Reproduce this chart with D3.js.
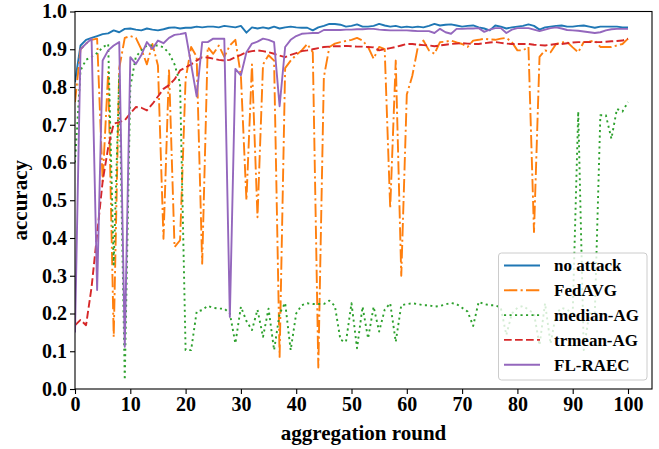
<!DOCTYPE html>
<html><head><meta charset="utf-8">
<script src="https://cdn.jsdelivr.net/npm/d3@7"></script>
<style>
body{margin:0;background:#fff}
svg{display:block}
text{font-family:"Liberation Serif","Times New Roman",serif;font-weight:bold;fill:#000}
</style>
</head><body>
<svg id="chart" width="659" height="449"></svg>
<script>
const rounds = d3.range(0, 101);
const xTicks = [0,10,20,30,40,50,60,70,80,90,100];
const yTicks = [0,0.1,0.2,0.3,0.4,0.5,0.6,0.7,0.8,0.9,1.0];
const seriesNames = ["no attack","FedAVG","median-AG","trmean-AG","FL-RAEC"];

const noAttack = [
0.813,0.91,0.925,0.93,0.935,0.94,0.942,0.95,0.945,0.954,
0.955,0.952,0.95,0.955,0.952,0.95,0.953,0.957,0.958,0.955,
0.957,0.957,0.96,0.958,0.96,0.96,0.958,0.962,0.96,0.958,
0.962,0.944,0.958,0.955,0.958,0.955,0.96,0.955,0.958,0.96,
0.958,0.957,0.957,0.95,0.958,0.962,0.967,0.967,0.965,0.96,
0.962,0.966,0.96,0.96,0.962,0.967,0.963,0.96,0.962,0.958,
0.96,0.958,0.96,0.958,0.962,0.967,0.963,0.965,0.966,0.963,
0.96,0.962,0.963,0.958,0.955,0.95,0.963,0.96,0.955,0.958,
0.96,0.962,0.966,0.962,0.952,0.958,0.96,0.962,0.963,0.96,
0.96,0.962,0.963,0.96,0.957,0.96,0.96,0.96,0.96,0.958,0.958];

const fedAvg = [
0.76,0.9,0.915,0.925,0.928,0.55,0.84,0.138,0.85,0.93,
0.935,0.93,0.9,0.86,0.914,0.857,0.398,0.848,0.376,0.394,
0.82,0.906,0.88,0.332,0.906,0.888,0.91,0.88,0.91,0.925,
0.83,0.50,0.86,0.455,0.86,0.884,0.87,0.085,0.85,0.87,
0.885,0.897,0.914,0.892,0.057,0.826,0.906,0.915,0.919,0.922,
0.925,0.93,0.923,0.906,0.875,0.906,0.9,0.479,0.87,0.30,
0.78,0.83,0.906,0.923,0.897,0.888,0.919,0.92,0.923,0.918,
0.914,0.906,0.923,0.925,0.928,0.926,0.925,0.928,0.93,0.919,
0.897,0.897,0.906,0.416,0.88,0.897,0.892,0.914,0.918,0.919,
0.905,0.892,0.919,0.92,0.923,0.906,0.906,0.906,0.91,0.914,0.928];

const medianAG = [
0.6,0.844,0.872,0.88,0.89,0.905,0.914,0.33,0.83,0.024,
0.80,0.88,0.897,0.91,0.91,0.91,0.905,0.89,0.86,0.81,
0.103,0.103,0.205,0.209,0.22,0.215,0.213,0.213,0.2,0.121,
0.218,0.18,0.156,0.21,0.138,0.213,0.103,0.2,0.228,0.103,
0.2,0.222,0.227,0.225,0.225,0.225,0.234,0.22,0.13,0.125,
0.227,0.108,0.218,0.134,0.218,0.152,0.21,0.227,0.125,0.222,
0.225,0.227,0.225,0.222,0.222,0.218,0.22,0.224,0.228,0.225,
0.215,0.205,0.167,0.231,0.225,0.222,0.222,0.215,0.143,0.2,
0.215,0.22,0.21,0.2,0.116,0.227,0.12,0.2,0.215,0.21,
0.2,0.735,0.103,0.2,0.2,0.725,0.725,0.663,0.742,0.735,0.76];

const trmeanAG = [
0.169,0.183,0.169,0.27,0.41,0.55,0.64,0.703,0.707,0.712,
0.73,0.747,0.745,0.738,0.755,0.775,0.795,0.805,0.82,0.844,
0.852,0.86,0.87,0.879,0.878,0.875,0.872,0.87,0.872,0.879,
0.885,0.892,0.895,0.897,0.895,0.892,0.888,0.883,0.879,0.885,
0.89,0.895,0.897,0.9,0.903,0.906,0.907,0.908,0.908,0.909,
0.908,0.907,0.907,0.906,0.905,0.897,0.9,0.903,0.906,0.91,
0.914,0.914,0.912,0.911,0.91,0.908,0.91,0.912,0.914,0.915,
0.916,0.915,0.914,0.914,0.916,0.918,0.919,0.917,0.915,0.914,
0.914,0.914,0.914,0.912,0.911,0.91,0.912,0.914,0.914,0.916,
0.918,0.919,0.919,0.919,0.919,0.919,0.92,0.921,0.922,0.923,0.928];

const flRaec = [
0.15,0.90,0.915,0.928,0.262,0.87,0.897,0.91,0.919,0.112,
0.879,0.861,0.885,0.919,0.901,0.923,0.916,0.93,0.938,0.94,
0.943,0.86,0.775,0.919,0.919,0.928,0.928,0.928,0.191,0.848,
0.831,0.892,0.915,0.92,0.928,0.925,0.919,0.749,0.906,0.925,
0.935,0.941,0.942,0.943,0.943,0.951,0.951,0.951,0.951,0.952,
0.952,0.953,0.953,0.954,0.954,0.952,0.951,0.95,0.95,0.95,
0.95,0.949,0.948,0.948,0.948,0.943,0.954,0.945,0.941,0.954,
0.954,0.955,0.955,0.956,0.946,0.952,0.956,0.956,0.943,0.952,
0.956,0.956,0.956,0.952,0.948,0.952,0.956,0.958,0.955,0.951,
0.95,0.949,0.947,0.945,0.943,0.945,0.95,0.953,0.954,0.954,0.954];

const series = [
  {name: seriesNames[0], values: noAttack, color: "#1f77b4", dash: null},
  {name: seriesNames[1], values: fedAvg,   color: "#ff7f0e", dash: "13.3,3.3,2.1,3.3"},
  {name: seriesNames[2], values: medianAG, color: "#2ca02c", dash: "2.1,3.4"},
  {name: seriesNames[3], values: trmeanAG, color: "#d62728", dash: "7.7,3.3"},
  {name: seriesNames[4], values: flRaec,   color: "#9467bd", dash: null}
];

const svg = d3.select("#chart");
const L = 75, R = 652, T = 11.5, B = 389;
const x = d3.scaleLinear().domain([0, (R - L) / 5.53]).range([L, R]);
const y = d3.scaleLinear().domain([0, 1]).range([B, T]);

svg.append("defs").append("clipPath").attr("id","clip")
  .append("rect").attr("x",L).attr("y",T).attr("width",R-L).attr("height",B-T);

const line = d3.line().x((d,i)=>x(rounds[i])).y(d=>y(d));
const g = svg.append("g").attr("clip-path","url(#clip)");
series.forEach(s=>{
  g.append("path").datum(s.values)
    .attr("d", line)
    .attr("fill","none")
    .attr("stroke", s.color)
    .attr("stroke-width", 1.9)
    .attr("stroke-linejoin","round")
    .attr("stroke-dasharray", s.dash);
});

// axes
const xAxis = svg.append("g").attr("transform",`translate(0,${B})`)
  .call(d3.axisBottom(x).tickValues(xTicks).tickSize(5).tickSizeOuter(0).tickPadding(3).tickFormat(d3.format("d")));
const yAxis = svg.append("g").attr("transform",`translate(${L},0)`)
  .call(d3.axisLeft(y).tickValues(yTicks).tickSize(5).tickSizeOuter(0).tickPadding(3).tickFormat(d3.format(".1f")));
[xAxis,yAxis].forEach(a=>{
  a.select(".domain").remove();
  a.selectAll(".tick line").attr("stroke","#000").attr("stroke-width",1.1);
  a.selectAll(".tick text").style("font-size","20px").style("font-family",'"Liberation Serif",serif').style("font-weight","bold").attr("fill","#000");
});

svg.append("rect").attr("x",L).attr("y",T).attr("width",R-L).attr("height",B-T)
  .attr("fill","none").attr("stroke","#000").attr("stroke-width",1.1);

// axis labels
svg.append("text").attr("x",(L+R)/2).attr("y",440).attr("text-anchor","middle")
  .style("font-size","21px").text("aggregation round");
svg.append("text").attr("transform",`translate(27,${(T+B)/2}) rotate(-90)`).attr("text-anchor","middle")
  .style("font-size","21px").text("accuracy");

// legend
const lg = svg.append("g");
lg.append("rect").attr("x",498.5).attr("y",253).attr("width",148.5).attr("height",127)
  .attr("rx",3).attr("fill","#fff").attr("fill-opacity",0.8).attr("stroke","#ccc").attr("stroke-width",1);
series.forEach((s,i)=>{
  const yy = 265.5 + i*24.8;
  lg.append("line").attr("x1",504).attr("x2",540).attr("y1",yy).attr("y2",yy)
    .attr("stroke",s.color).attr("stroke-width",1.9).attr("stroke-dasharray",s.dash);
  lg.append("text").attr("x",554).attr("y",yy).attr("dy","0.35em")
    .style("font-size","17px").text(s.name);
});
</script>
</body></html>
